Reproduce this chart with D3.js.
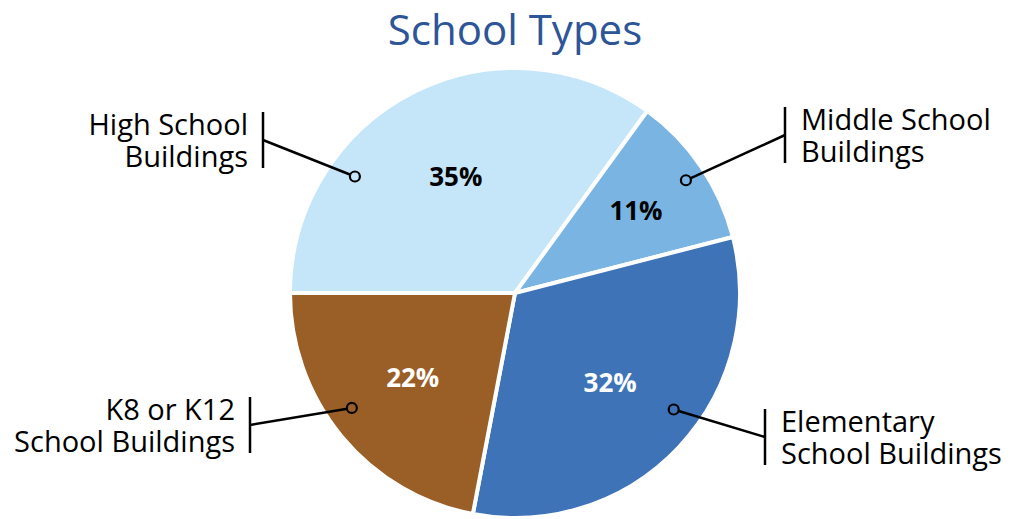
<!DOCTYPE html>
<html>
<head>
<meta charset="utf-8">
<script src="https://cdn.jsdelivr.net/npm/d3@7"></script>
<style>
  body { margin: 0; background: #fff; }
  svg text { font-family: "Open Sans", "Noto Sans", sans-serif; }
</style>
</head>
<body>
<svg id="chart" width="1013" height="519"></svg>
<script>
// data
var categories = ["High School Buildings", "Middle School Buildings", "Elementary School Buildings", "K8 or K12 School Buildings"];
var values = [35, 11, 32, 22];
var labelLines = [["High School", "Buildings"], ["Middle School", "Buildings"], ["Elementary", "School Buildings"], ["K8 or K12", "School Buildings"]];
var colors = ["#c4e6f8", "#79b4e2", "#3e73b8", "#9a5e27"];
var pctColors = ["#000", "#000", "#fff", "#fff"];

// callout layout (fraction along slice, radius ratio, text side, bar x, text baseline)
var callouts = [
  { t: 0.286, r: 0.88,  side: "left",  barX: 263, y0: 135 },
  { t: 0.52,  r: 0.91,  side: "right", barX: 785, y0: 130 },
  { t: 0.44,  r: 0.875, side: "right", barX: 765, y0: 432 },
  { t: 0.556, r: 0.887, side: "left",  barX: 250, y0: 420 }
];
var pctRadius = [0.58, 0.65, 0.58, 0.59];

var svg = d3.select("#chart");
var cx = 515, cy = 293, R = 225;

svg.append("text")
  .attr("x", 515).attr("y", 45)
  .attr("text-anchor", "middle")
  .attr("fill", "#2d5597")
  .style("font-size", "42px")
  .text("School Types");

var pie = d3.pie().sort(null).startAngle(-Math.PI / 2).endAngle(1.5 * Math.PI);
var arcs = pie(values);
var arc = d3.arc().innerRadius(0).outerRadius(R);

var g = svg.append("g").attr("transform", "translate(" + cx + "," + cy + ")");

g.selectAll("path.slice").data(arcs).enter()
  .append("path").attr("class", "slice")
  .attr("d", arc)
  .attr("fill", function (d, i) { return colors[i]; })
  .attr("stroke", "#fff")
  .attr("stroke-width", 4)
  .attr("stroke-linejoin", "round");

// percentage labels
g.selectAll("text.pct").data(arcs).enter()
  .append("text").attr("class", "pct")
  .attr("transform", function (d, i) {
    var a = (d.startAngle + d.endAngle) / 2, r = R * pctRadius[i];
    return "translate(" + (r * Math.sin(a)) + "," + (-r * Math.cos(a)) + ")";
  })
  .attr("text-anchor", "middle")
  .attr("dy", "0.36em")
  .attr("fill", function (d, i) { return pctColors[i]; })
  .style("font-size", "26px")
  .style("font-weight", "bold")
  .text(function (d) { return d.data + "%"; });

// callouts
arcs.forEach(function (d, i) {
  var c = callouts[i];
  var a = d.startAngle + c.t * (d.endAngle - d.startAngle);
  var dx = cx + R * c.r * Math.sin(a), dy = cy - R * c.r * Math.cos(a);
  var barTop = c.y0 - 23, barBot = c.y0 + 32 + 1;
  var midY = (barTop + barBot) / 2;

  svg.append("line")
    .attr("x1", c.barX).attr("x2", c.barX)
    .attr("y1", barTop).attr("y2", barBot)
    .attr("stroke", "#000").attr("stroke-width", 2.5);
  svg.append("line")
    .attr("x1", c.barX).attr("y1", midY)
    .attr("x2", dx).attr("y2", dy)
    .attr("stroke", "#000").attr("stroke-width", 2.5);
  svg.append("circle")
    .attr("cx", dx).attr("cy", dy).attr("r", 5)
    .attr("fill", colors[i])
    .attr("stroke", "#000").attr("stroke-width", 2.2);

  var t = svg.append("text")
    .attr("text-anchor", c.side === "left" ? "end" : "start")
    .attr("fill", "#000")
    .style("font-size", "29px");
  labelLines[i].forEach(function (line, j) {
    t.append("tspan")
      .attr("x", c.side === "left" ? c.barX - 15 : c.barX + 16)
      .attr("y", c.y0 + j * 32)
      .text(line);
  });
});
</script>
</body>
</html>
